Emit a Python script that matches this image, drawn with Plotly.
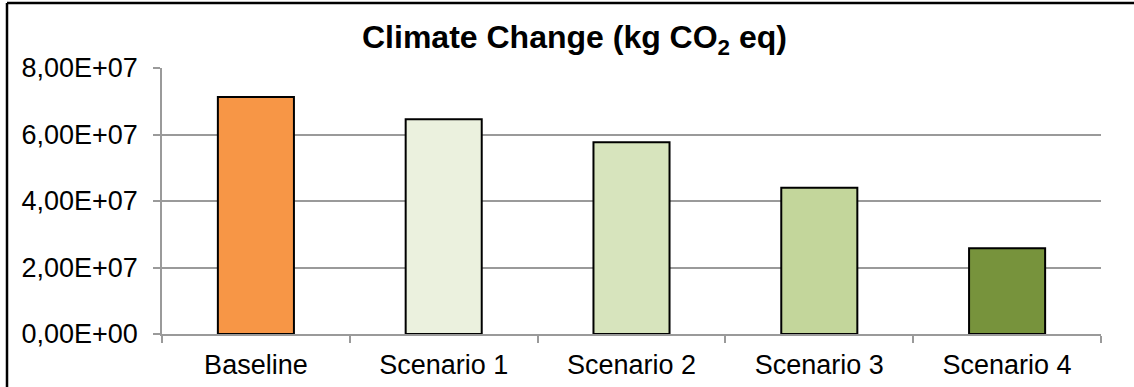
import plotly.graph_objects as go

categories = ["Baseline", "Scenario 1", "Scenario 2", "Scenario 3", "Scenario 4"]
values = [7.13e7, 6.46e7, 5.77e7, 4.40e7, 2.58e7]
bar_colors = ["#F79646", "#EBF1DE", "#D7E4BD", "#C3D69B", "#77933C"]
tick_vals = [0, 2e7, 4e7, 6e7, 8e7]
tick_text = ["0,00E+00", "2,00E+07", "4,00E+07", "6,00E+07", "8,00E+07"]

W, H = 1134, 387
ML, MR, MT, MB = 162, 33, 68, 53
pw, ph = W - ML - MR, H - MT - MB

fig = go.Figure(go.Bar(
    x=categories, y=values, width=0.405,
    marker=dict(color=bar_colors, line=dict(color="#000000", width=2)),
))

grid = "#9A9A9A"
fig.update_layout(
    width=W, height=H,
    margin=dict(l=ML, r=MR, t=MT, b=MB, pad=0),
    paper_bgcolor="white", plot_bgcolor="white",
    font=dict(family="Liberation Sans, Arial, sans-serif", color="#000000", size=27),
    showlegend=False,
    xaxis=dict(
        type="category", tickson="boundaries", ticks="outside", ticklen=7,
        tickcolor=grid, tickwidth=1.5, showline=True, linecolor=grid, linewidth=1.5,
        showgrid=False, tickfont=dict(size=27), range=[-0.5, 4.5],
        ticklabelstandoff=6, automargin=False,
    ),
    yaxis=dict(
        range=[0, 8e7], tickvals=tick_vals, ticktext=tick_text,
        ticks="outside", ticklen=7, tickcolor=grid, tickwidth=1.5,
        showline=True, linecolor=grid, linewidth=1.5,
        showgrid=True, gridcolor=grid, gridwidth=1.5, zeroline=False,
        tickfont=dict(size=27), ticklabelstandoff=10, automargin=False,
    ),
    annotations=[dict(
        text="<b>Climate Change (kg CO<sub>2</sub> eq)</b>",
        xref="paper", yref="paper",
        x=(574 - ML) / pw, y=(H - MB - 40) / ph,
        xanchor="center", yanchor="middle", showarrow=False,
        font=dict(size=32, color="#000000"),
    )],
    shapes=[
        # outer frame: top and left edges
        dict(type="line", xref="paper", yref="paper",
             x0=(7 - ML) / pw, x1=(W - ML) / pw,
             y0=(H - MB - 3) / ph, y1=(H - MB - 3) / ph,
             line=dict(color="#000000", width=2.5), layer="above"),
        dict(type="line", xref="paper", yref="paper",
             x0=(7 - ML) / pw, x1=(7 - ML) / pw,
             y0=-MB / ph, y1=(H - MB - 3) / ph,
             line=dict(color="#000000", width=2.5), layer="above"),
    ],
)

fig.write_html("out.html")
